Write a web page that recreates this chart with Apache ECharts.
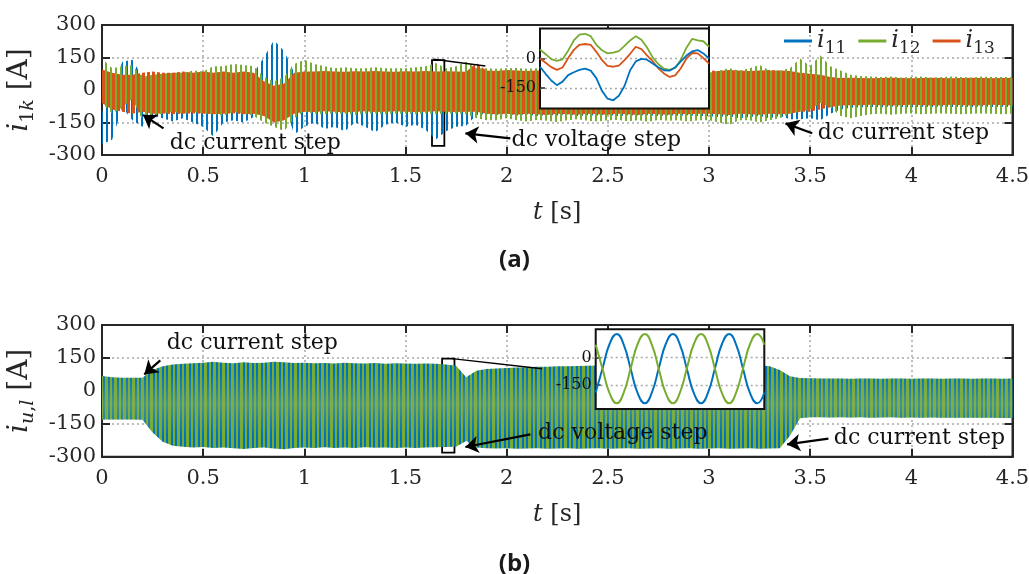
<!DOCTYPE html>
<html><head><meta charset="utf-8">
<script src="https://cdn.jsdelivr.net/npm/echarts@6/dist/echarts.min.js"></script>
<style>html,body{margin:0;padding:0;background:#fff}#c{width:1029px;height:574px}</style>
</head><body><div id="c"></div>
<script>
// ---------------- data ----------------
const X_TICKS = [0, 0.5, 1, 1.5, 2, 2.5, 3, 3.5, 4, 4.5];
const Y_TICKS = [-300, -150, 0, 150, 300];
const INSET_TICKS = [0, -150];

const T = [0,0.05,0.1,0.15,0.2,0.25,0.3,0.35,0.4,0.45,0.5,0.55,0.6,0.65,0.7,0.75,0.8,0.85,0.9,0.95,
1,1.05,1.1,1.15,1.2,1.25,1.3,1.35,1.4,1.45,1.5,1.55,1.6,1.65,1.7,1.75,1.8,1.85,1.9,1.95,
2,2.05,2.1,2.15,2.2,2.25,2.3,2.35,2.4,2.45,2.5,2.55,2.6,2.65,2.7,2.75,2.8,2.85,2.9,2.95,
3,3.05,3.1,3.15,3.2,3.25,3.3,3.35,3.4,3.45,3.5,3.55,3.6,3.65,3.7,3.75,3.8,3.85,3.9,3.95,
4,4.05,4.1,4.15,4.2,4.25,4.3,4.35,4.4,4.45,4.5];

// (a) envelopes of the fast oscillation of i11, i12, i13 (upper / lower)
const I11_HI = [-100,-20,130,140,60,50,60,60,60,60, 60,60,70,70,70,80,150,230,180,80, 70,72,68,70,75,70,68,72,70,66,
70,74,70,72,70,62,60,60,60,62, 60,58,60,62,60,60,58,60,62,60, 60,60,58,60,62,60,60,58,60,62,
60,62,58,60,60,62,60,58,60,62, 60,60,50,50,52,50,48,50,52,50, 50,48,50,52,50,50,48,50,52,50, 50];
const I11_LO = [-250,-230,-80,-140,-170,-120,-130,-145,-130,-150, -170,-215,-150,-140,-150,-125,-60,30,-60,-205,
-170,-150,-180,-170,-190,-150,-170,-195,-160,-150, -170,-160,-185,-228,-190,-170,-165,-115,-110,-115,
-110,-118,-112,-120,-115,-118,-112,-120,-116,-118, -114,-120,-116,-118,-115,-120,-117,-119,-116,-120,
-120,-125,-120,-130,-125,-120,-130,-120,-135,-135, -130,-140,-110,-90,-82,-80,-78,-80,-76,-78,
-80,-77,-78,-76,-79,-77,-78,-76,-78,-77, -78];
const I12_HI = [145,100,110,115,60,70,75,80,80,90, 85,110,110,120,115,110,60,40,60,120, 140,120,110,100,105,100,100,105,100,100,
100,105,110,125,100,110,130,100,100,98, 100,102,98,100,104,100,98,102,100,98, 100,102,100,98,100,104,100,98,100,102,
80,90,100,90,100,115,90,90,100,145, 110,160,110,90,70,65,62,60,62,58, 60,62,58,60,62,60,58,62,60,60, 60];
const I12_LO = [-60,-110,-80,-40,-140,-120,-110,-100,-110,-100, -110,-110,-120,-100,-110,-120,-150,-170,-190,-130,
-100,-110,-112,-108,-110,-115,-110,-108,-112,-110, -110,-112,-108,-112,-110,-108,-112,-130,-140,-140,
-130,-140,-145,-138,-142,-148,-140,-135,-142,-145, -140,-138,-144,-140,-146,-138,-142,-140,-145,-140,
-140,-150,-160,-140,-140,-150,-140,-130,-110,-100, -90,-60,-80,-120,-130,-120,-112,-110,-114,-110,
-108,-112,-110,-108,-110,-112,-110,-108,-110,-112, -110];
const I13_HI = [95,80,70,70,80,85,80,80,85,80, 85,80,85,80,85,80,40,20,30,80, 85,85,88,85,84,86,85,88,85,84,
86,85,88,85,86,85,84,125,90,88, 92,90,88,90,92,90,88,90,92,90, 88,90,92,90,88,90,92,90,88,90,
90,88,92,90,88,90,92,90,88,80, 75,70,60,55,56,55,54,55,56,55, 54,55,56,55,54,55,56,55,54,55, 55];
const I13_LO = [-60,-90,-100,-110,-100,-110,-108,-112,-110,-108, -110,-112,-110,-108,-112,-110,-120,-150,-140,-110,
-100,-102,-98,-100,-104,-100,-98,-102,-100,-98, -100,-102,-100,-98,-100,-102,-100,-100,-110,-112,
-110,-114,-110,-112,-115,-110,-112,-114,-110,-112, -114,-110,-112,-115,-110,-112,-114,-110,-112,-110,
-110,-112,-115,-110,-112,-114,-110,-112,-110,-100, -100,-90,-80,-72,-70,-70,-68,-70,-72,-70,
-68,-70,-72,-70,-68,-70,-72,-70,-68,-70, -70];

// (b) envelope of i_u,l (upper / lower)
const IUL_HI = [68,62,60,60,60,95,112,120,124,126, 128,133,128,126,130,127,128,133,130,127,
128,126,127,125,128,126,125,127,124,126, 125,124,125,123,120,114,62,92,100,102,
104,106,108,110,110,112,112,113,114,115, 115,116,116,117,117,118,117,118,118,117,
117,118,117,116,116,116,112,95,66,58, 57,56,56,56,55,56,56,55,56,56, 55,56,56,55,56,56,55,56,56,55, 56];
const IUL_LO = [-131,-131,-130,-130,-132,-190,-232,-250,-255,-258, -256,-260,-258,-262,-265,-260,-258,-263,-266,-260,
-258,-260,-257,-260,-258,-260,-257,-259,-258,-260, -258,-260,-258,-257,-256,-255,-228,-258,-262,-263,
-262,-264,-263,-262,-264,-263,-262,-264,-263,-262, -264,-263,-262,-264,-263,-262,-264,-263,-262,-264,
-263,-262,-264,-263,-262,-264,-263,-262,-205,-125, -120,-120,-121,-120,-121,-120,-122,-121,-120,-122,
-121,-122,-121,-122,-123,-122,-123,-122,-123,-124, -124];

// (a) inset (zoom 1.63 s – 1.69 s)
const ZA_T = [1.63,1.632,1.634,1.636,1.638,1.64,1.642,1.644,1.646,1.648,1.65,1.652,1.654,1.656,1.658,1.66,
1.662,1.664,1.666,1.668,1.67,1.672,1.674,1.676,1.678,1.68,1.682,1.684,1.686,1.688,1.69];
const ZA_I11 = [-43,-78,-112,-136,-118,-85,-70,-58,-52,-62,-100,-165,-205,-213,-190,-140,-60,-15,-2,-6,-25,-45,-60,-62,-45,-15,15,36,43,26,0];
const ZA_I12 = [46,22,-3,-12,-4,40,92,122,126,114,70,42,26,30,38,64,92,114,96,56,6,-28,-52,-58,-48,-6,55,100,92,88,60];
const ZA_I13 = [0,-22,-44,-58,-46,2,44,70,74,70,34,-8,-38,-42,-36,-8,24,60,48,16,-14,-50,-76,-94,-86,-50,0,28,26,2,-26];

// (b) inset (zoom 1.68 s – 1.74 s)
const ZB_T = [1.68,1.6825,1.685,1.6875,1.69,1.6925,1.695,1.6975,1.7,1.7025,1.705,1.7075,1.71,1.7125,1.715,1.7175,
1.72,1.7225,1.725,1.7275,1.73,1.7325,1.735,1.7375,1.74];
const ZB_BLUE = [-191,-55,78,130,71,-65,-198,-250,-191,-55,78,130,71,-65,-198,-250,-191,-55,78,130,71,-65,-198,-250,-191];
const ZB_GREEN = [71,-65,-198,-250,-191,-55,78,130,71,-65,-198,-250,-191,-55,78,130,71,-65,-198,-250,-191,-55,78,130,71];

// ---------------- style ----------------
const BLUE = '#0072BD', GREEN = '#77AC30', ORANGE = '#D95319';
const INK = '#262626';
const FONT = 'DejaVu Serif';
const GRIDC = '#a8a8a8';

function stripes(period, parts) {
  const c = document.createElement('canvas');
  c.width = period; c.height = 2;
  const ctx = c.getContext('2d');
  parts.forEach(p => { ctx.fillStyle = p[2]; ctx.fillRect(p[0], 0, p[1], 2); });
  return { type: 'pattern', image: c, repeat: 'repeat' };
}
const patBlue = stripes(5, [[1, 2, BLUE]]);
const patGreen = stripes(5, [[0, 2, GREEN]]);
const patOrange = stripes(5, [[2, 3, ORANGE]]);
const patMix = stripes(9, [[0, 2, BLUE], [2, 2, GREEN], [4, 2, BLUE], [6, 3, GREEN]]);

function bandRender(hi, lo, fill, overlay) {
  return function (params, api) {
    if (params.dataIndex !== 0) return null;
    const pts = [];
    for (let i = 0; i < T.length; i++) pts.push(api.coord([T[i], hi[i]]));
    for (let i = T.length - 1; i >= 0; i--) pts.push(api.coord([T[i], lo[i]]));
    const children = [{ type: 'polygon', shape: { points: pts }, style: { fill: fill } }];
    if (overlay) {
      const y1 = api.coord([0, 80])[1], y2 = api.coord([0, -200])[1];
      children.push({ type: 'polygon', shape: { points: pts }, style: {
        fill: new echarts.graphic.LinearGradient(0, y1, 0, y2, [
          { offset: 0, color: 'rgba(128,176,96,0)' },
          { offset: 0.5, color: 'rgba(128,176,96,0.55)' },
          { offset: 1, color: 'rgba(128,176,96,0)' }], true) } });
    }
    return { type: 'group', children: children };
  };
}
function bandSeries(name, xi, yi, hi, lo, fill, color, z, overlay) {
  return {
    type: 'custom', name: name, xAxisIndex: xi, yAxisIndex: yi, z: z,
    itemStyle: { color: color }, silent: true,
    data: T.map((t, i) => [t, lo[i], hi[i]]),
    encode: { x: 0, y: [1, 2] },
    renderItem: bandRender(hi, lo, fill, overlay)
  };
}

const rich = {
  it: { fontFamily: FONT, fontStyle: 'italic', fontSize: 24, lineHeight: 32, color: INK },
  n: { fontFamily: FONT, fontSize: 24, lineHeight: 32, color: INK },
  sub: { fontFamily: FONT, fontSize: 17, lineHeight: 17, verticalAlign: 'bottom', color: INK },
  subi: { fontFamily: FONT, fontStyle: 'italic', fontSize: 17, lineHeight: 17, verticalAlign: 'bottom', color: INK }
};
const richY = {
  it: { fontFamily: FONT, fontStyle: 'italic', fontSize: 28, lineHeight: 36, color: INK },
  n: { fontFamily: FONT, fontSize: 28, lineHeight: 36, color: INK },
  sub: { fontFamily: FONT, fontSize: 19, lineHeight: 19, verticalAlign: 'bottom', color: INK },
  subi: { fontFamily: FONT, fontStyle: 'italic', fontSize: 19, lineHeight: 19, verticalAlign: 'bottom', color: INK }
};

const axLine = { show: true, onZero: false, lineStyle: { color: INK, width: 2 } };
const axTick = { show: true, inside: true, length: 8, lineStyle: { color: INK, width: 2 } };
const axLabel = { fontFamily: FONT, fontSize: 21, color: INK, showMinLabel: true, showMaxLabel: true };
const split = { show: true, lineStyle: { color: GRIDC, width: 1.5, type: [2, 3] } };

function mainX(gi, pos, withLabels) {
  const a = {
    gridIndex: gi, type: 'value', position: pos,
    min: X_TICKS[0], max: X_TICKS[X_TICKS.length - 1], interval: X_TICKS[1] - X_TICKS[0],
    axisLine: axLine, axisTick: axTick,
    axisLabel: Object.assign({ show: withLabels, margin: 11 }, axLabel),
    splitLine: withLabels ? split : { show: false }
  };
  if (withLabels) {
    a.name = '{it|t}{n| [s]}'; a.nameLocation = 'middle'; a.nameGap = 42;
    a.nameTextStyle = { rich: rich };
  }
  return a;
}
function mainY(gi, pos, withLabels, nameStr) {
  const a = {
    gridIndex: gi, type: 'value', position: pos,
    min: Y_TICKS[0], max: Y_TICKS[Y_TICKS.length - 1], interval: Y_TICKS[1] - Y_TICKS[0],
    axisLine: axLine, axisTick: axTick,
    axisLabel: Object.assign({ show: withLabels, margin: 6 }, axLabel),
    splitLine: withLabels ? split : { show: false }
  };
  if (withLabels) {
    a.name = nameStr; a.nameLocation = 'middle'; a.nameGap = 46;
    a.nameTextStyle = { rich: richY };
  }
  return a;
}
function insetX(gi, t) {
  return { gridIndex: gi, type: 'value', min: t[0], max: t[t.length - 1], show: false };
}
function insetY(gi, mn, mx) {
  return {
    gridIndex: gi, type: 'value', min: mn, max: mx, z: 12,
    axisLine: { show: false },
    axisTick: { show: true, inside: true, length: 5, customValues: INSET_TICKS, lineStyle: { color: INK, width: 1.5 } },
    axisLabel: { customValues: INSET_TICKS, fontFamily: FONT, fontSize: 16, color: '#111', margin: 4 },
    splitLine: { show: true, lineStyle: { color: GRIDC, width: 1.3, type: [2, 3] } }
  };
}

const arrowMark = (pairs) => ({
  silent: true, animation: false, symbol: ['none', 'arrow'], symbolSize: 13,
  label: { show: false }, lineStyle: { color: '#000', width: 2.2, type: 'solid' },
  data: pairs.map(p => [{ coord: p[0] }, { coord: p[1] }])
});
const textMark = (items) => ({
  silent: true, animation: false, symbol: 'rect', symbolSize: 1,
  itemStyle: { color: 'rgba(0,0,0,0)' },
  label: { show: true, position: 'inside', formatter: '{b}', fontFamily: FONT, fontSize: 22, color: '#111' },
  data: items.map(it => ({ name: it[0], coord: it[1] }))
});
const zoomMarks = (line, rect) => ({
  markLine: { silent: true, animation: false, symbol: ['none', 'none'], label: { show: false },
    lineStyle: { color: '#000', width: 1.5, type: 'solid' }, data: [[{ coord: line[0] }, { coord: line[1] }]] },
  markArea: { silent: true, animation: false, itemStyle: { color: 'rgba(0,0,0,0)', borderColor: '#000', borderWidth: 1.8 },
    label: { show: false }, data: [[{ coord: rect[0] }, { coord: rect[1] }]] }
});

const option = {
  animation: false,
  backgroundColor: '#fff',
  title: [
    { text: '(a)', left: 'center', top: 248, padding: 0, textStyle: { fontFamily: 'Open Sans', fontWeight: 'bold', fontSize: 24, color: '#1a1a1a' } },
    { text: '(b)', left: 'center', top: 552, padding: 0, textStyle: { fontFamily: 'Open Sans', fontWeight: 'bold', fontSize: 24, color: '#1a1a1a' } }
  ],
  legend: {
    left: 784, top: 29, padding: 0, itemWidth: 28, itemHeight: 3, itemGap: 12, icon: 'rect',
    selectedMode: false, data: ['i11', 'i12', 'i13'],
    formatter: n => '{it|i}{sub|' + n.slice(1) + '}',
    textStyle: { rich: rich }
  },
  grid: [
    { left: 102, top: 25, width: 910.5, height: 130, show: true, borderColor: INK, borderWidth: 2, backgroundColor: 'rgba(0,0,0,0)', outerBoundsMode: 'none' },
    { left: 540, top: 28.5, width: 169, height: 80, show: true, borderColor: '#111', borderWidth: 2, backgroundColor: '#fff', z: 10, outerBoundsMode: 'none' },
    { left: 102, top: 325, width: 910.5, height: 131.7, show: true, borderColor: INK, borderWidth: 2, backgroundColor: 'rgba(0,0,0,0)', outerBoundsMode: 'none' },
    { left: 595.7, top: 329.3, width: 168.6, height: 79.7, show: true, borderColor: '#111', borderWidth: 2, backgroundColor: '#fff', z: 10, outerBoundsMode: 'none' }
  ],
  xAxis: [
    mainX(0, 'bottom', true), mainX(0, 'top', false), insetX(1, ZA_T),
    mainX(2, 'bottom', true), mainX(2, 'top', false), insetX(3, ZB_T)
  ],
  yAxis: [
    mainY(0, 'left', true, '{it|i}{sub|1}{subi|k}{n| [A]}'), mainY(0, 'right', false), insetY(1, -255, 153),
    mainY(2, 'left', true, '{it|i}{subi|u}{sub|,}{subi|l}{n| [A]}'), mainY(2, 'right', false), insetY(3, -282, 156)
  ],
  series: [
    bandSeries('i11', 0, 0, I11_HI, I11_LO, patBlue, BLUE, 2),
    bandSeries('i12', 0, 0, I12_HI, I12_LO, patGreen, GREEN, 2.5),
    bandSeries('i13', 0, 0, I13_HI, I13_LO, patOrange, ORANGE, 3),
    bandSeries('iul', 3, 3, IUL_HI, IUL_LO, patMix, GREEN, 2, true),
    // insets
    { type: 'line', name: 'z11', xAxisIndex: 2, yAxisIndex: 2, z: 13, showSymbol: false, silent: true,
      data: ZA_T.map((t, i) => [t, ZA_I11[i]]), lineStyle: { color: BLUE, width: 1.8 } },
    { type: 'line', name: 'z12', xAxisIndex: 2, yAxisIndex: 2, z: 12, showSymbol: false, silent: true,
      data: ZA_T.map((t, i) => [t, ZA_I12[i]]), lineStyle: { color: GREEN, width: 1.8 } },
    { type: 'line', name: 'z13', xAxisIndex: 2, yAxisIndex: 2, z: 12.5, showSymbol: false, silent: true,
      data: ZA_T.map((t, i) => [t, ZA_I13[i]]), lineStyle: { color: ORANGE, width: 1.8 } },
    { type: 'line', name: 'zb1', xAxisIndex: 5, yAxisIndex: 5, z: 12, showSymbol: false, silent: true, smooth: 0.5,
      data: ZB_T.map((t, i) => [t, ZB_BLUE[i]]), lineStyle: { color: BLUE, width: 2 } },
    { type: 'line', name: 'zb2', xAxisIndex: 5, yAxisIndex: 5, z: 12.5, showSymbol: false, silent: true, smooth: 0.5,
      data: ZB_T.map((t, i) => [t, ZB_GREEN[i]]), lineStyle: { color: GREEN, width: 2 } },
    // annotations (a)
    Object.assign({ type: 'line', name: 'za', xAxisIndex: 0, yAxisIndex: 0, z: 5, data: [], silent: true },
      zoomMarks([[1.639, 141.7], [1.895, 110.8]], [[1.631, 138], [1.692, -258]])),
    { type: 'line', name: 'aa', xAxisIndex: 0, yAxisIndex: 0, z: 20, data: [], silent: true,
      markLine: arrowMark([[[0.304, -177], [0.203, -115]], [[2.018, -223], [1.796, -200]], [[3.510, -200], [3.378, -154]]]),
      markPoint: textMark([['dc current step', [0.758, -245]], ['dc voltage step', [2.443, -231]], ['dc current step', [3.961, -198]]]) },
    // annotations (b)
    Object.assign({ type: 'line', name: 'zb', xAxisIndex: 3, yAxisIndex: 3, z: 5, data: [], silent: true },
      zoomMarks([[1.730, 146.8], [2.175, 101]], [[1.681, 146.8], [1.742, -281.8]])),
    { type: 'line', name: 'ab', xAxisIndex: 3, yAxisIndex: 3, z: 20, data: [], silent: true,
      markLine: arrowMark([[[0.288, 139], [0.209, 75]], [[2.117, -198.6], [1.796, -256]], [[3.590, -218], [3.386, -244]]]),
      markPoint: textMark([['dc current step', [0.743, 216.6]], ['dc voltage step', [2.574, -194]], ['dc current step', [4.04, -216.6]]]) }
  ]
};

const chart = echarts.init(document.getElementById('c'), null, { renderer: 'canvas' });
chart.setOption(option);
</script>
</body></html>
